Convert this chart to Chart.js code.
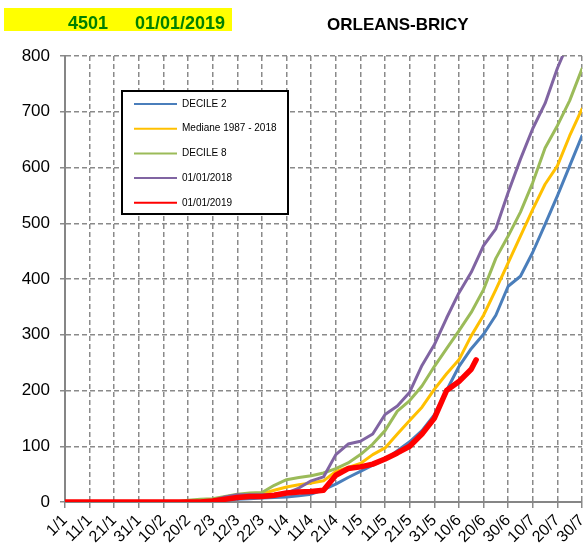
<!DOCTYPE html>
<html>
<head>
<meta charset="utf-8">
<script src="https://cdn.jsdelivr.net/npm/chart.js@4.4.1/dist/chart.umd.min.js"></script>
<style>
  html, body { margin: 0; padding: 0; background: #fff; }
  #wrap { width: 584px; height: 548px; }
</style>
</head>
<body>
<div id="wrap"><canvas id="chart" width="584" height="548"></canvas></div>
<script>
const stationCode = "4501";
const startDate = "01/01/2019";
const stationName = "ORLEANS-BRICY";

// x = jour depuis le 1/1, un tick tous les 10 jours
const tickLabels = ["1/1", "11/1", "21/1", "31/1", "10/2", "20/2", "2/3", "12/3", "22/3", "1/4", "11/4",
    "21/4", "1/5", "11/5", "21/5", "31/5", "10/6", "20/6", "30/6", "10/7", "20/7", "30/7"];

const days = [0, 5, 10, 15, 20, 25, 30, 35, 40, 45, 50, 55, 60, 65, 70, 75, 80, 85, 90, 95, 100, 105,
    110, 115, 120, 125, 130, 135, 140, 145, 150, 155, 160, 165, 170, 175, 180, 185, 190, 195, 200, 205, 210];
const days2019 = [0, 5, 10, 15, 20, 25, 30, 35, 40, 45, 50, 55, 60, 65, 70, 75, 80, 85, 90, 95, 100, 105,
    110, 115, 120, 125, 130, 135, 140, 145, 150, 155, 160, 165, 167];

const decile2 = [0, 0, 0, 0, 0, 0, 0, 0, 0, 0, 0, 0, 1, 3, 5, 6, 7, 8, 9, 11, 14, 22,
    32, 44, 55, 66, 76, 92, 108, 128, 156, 200, 243, 275, 301, 335, 387, 405, 448, 498, 549, 603, 657];
const mediane = [0, 0, 0, 0, 0, 0, 0, 0, 0, 0, 0, 1, 3, 7, 11, 13, 15, 21, 27, 31, 34, 38,
    55, 62, 69, 85, 97, 122, 146, 170, 202, 230, 255, 298, 335, 381, 429, 477, 525, 570, 603, 657, 705];
const decile8 = [0, 0, 0, 0, 0, 0, 0, 0, 0, 0, 3, 5, 6, 10, 14, 16, 17, 30, 40, 44, 47, 52,
    60, 70, 85, 104, 128, 163, 182, 208, 243, 275, 307, 340, 381, 437, 477, 520, 573, 635, 675, 720, 777];
const year2018 = [0, 0, 0, 0, 0, 0, 0, 0, 0, 0, 0, 0, 3, 9, 13, 13, 13, 14, 16, 25, 38, 45,
    85, 104, 109, 122, 157, 172, 197, 245, 282, 330, 375, 412, 460, 490, 555, 615, 670, 715, 778, 830, 880];
const year2019 = [0, 0, 0, 0, 0, 0, 0, 0, 0, 0, 0, 0, 2, 5, 8, 10, 10, 12, 16, 18, 19, 21,
    48, 60, 63, 68, 77, 88, 100, 122, 150, 200, 216, 238, 255];

function toPoints(xs, ys) {
    return ys.map((y, i) => ({ x: xs[i], y: y }));
}

const FONT = "'Liberation Sans', Arial, sans-serif";

const headerAndLegend = {
    id: "headerAndLegend",
    afterDraw(chart) {
        const ctx = chart.ctx;
        ctx.save();
        // bandeau jaune
        ctx.fillStyle = "#ffff00";
        ctx.fillRect(4, 8, 228, 23);
        ctx.font = "bold 18px " + FONT;
        ctx.fillStyle = "#008000";
        ctx.textBaseline = "alphabetic";
        ctx.fillText(stationCode, 68, 29);
        ctx.fillText(startDate, 135, 29);
        ctx.fillStyle = "#000";
        ctx.font = "bold 17px " + FONT;
        ctx.fillText(stationName, 327, 30);

        // legende encadree dans la zone du graphe
        ctx.fillStyle = "#fff";
        ctx.fillRect(122, 91, 166, 123);
        ctx.strokeStyle = "#000";
        ctx.lineWidth = 2;
        ctx.strokeRect(122, 91, 166, 123);
        ctx.font = "10px " + FONT;
        ctx.textBaseline = "middle";
        chart.data.datasets.forEach((ds, i) => {
            const y = 104 + i * 24.7;
            ctx.strokeStyle = ds.borderColor;
            ctx.lineWidth = 2;
            ctx.beginPath();
            ctx.moveTo(134, y);
            ctx.lineTo(177, y);
            ctx.stroke();
            ctx.fillStyle = "#000";
            ctx.fillText(ds.label, 182, y);
        });
        ctx.restore();
    }
};

new Chart(document.getElementById("chart"), {
    type: "line",
    data: {
        datasets: [
            { label: "DECILE 2", data: toPoints(days, decile2), borderColor: "#4a7ebb", borderWidth: 3, order: 5 },
            { label: "Mediane 1987 - 2018", data: toPoints(days, mediane), borderColor: "#ffc000", borderWidth: 3, order: 4 },
            { label: "DECILE 8", data: toPoints(days, decile8), borderColor: "#9bbb59", borderWidth: 3, order: 3 },
            { label: "01/01/2018", data: toPoints(days, year2018), borderColor: "#8064a2", borderWidth: 3, order: 2 },
            { label: "01/01/2019", data: toPoints(days2019, year2019), borderColor: "#ff0000", borderWidth: 5.5, order: 1 },
        ],
    },
    options: {
        responsive: false,
        animation: false,
        tension: 0,
        elements: { point: { radius: 0 }, line: { borderJoinStyle: "round", borderCapStyle: "round" } },
        layout: { padding: { top: 56, right: 2, left: 0, bottom: 0 } },
        plugins: { legend: { display: false }, tooltip: { enabled: false } },
        scales: {
            x: {
                type: "linear",
                min: 0,
                max: 210,
                afterFit: (s) => { s.height = 46; s.paddingLeft = 0; s.paddingRight = 0; },
                ticks: {
                    stepSize: 10,
                    autoSkip: false,
                    minRotation: 45,
                    maxRotation: 45,
                    padding: 3,
                    color: "#000",
                    font: { family: FONT, size: 16 },
                    callback: (v) => tickLabels[Math.round(v / 10)],
                },
                grid: { color: "#8a8a8a", lineWidth: 1.5, tickLength: 6 },
                border: { color: "#868686", width: 2, dash: [5, 3] },
            },
            y: {
                min: 0,
                max: 800,
                afterFit: (s) => { s.width = 65; s.paddingTop = 0; s.paddingBottom = 0; },
                ticks: {
                    stepSize: 100,
                    padding: 10,
                    color: "#000",
                    font: { family: FONT, size: 17 },
                },
                grid: { color: "#8a8a8a", lineWidth: 1.5, tickLength: 5 },
                border: { color: "#868686", width: 2, dash: [5, 3] },
            },
        },
    },
    plugins: [headerAndLegend],
});
</script>
</body>
</html>
